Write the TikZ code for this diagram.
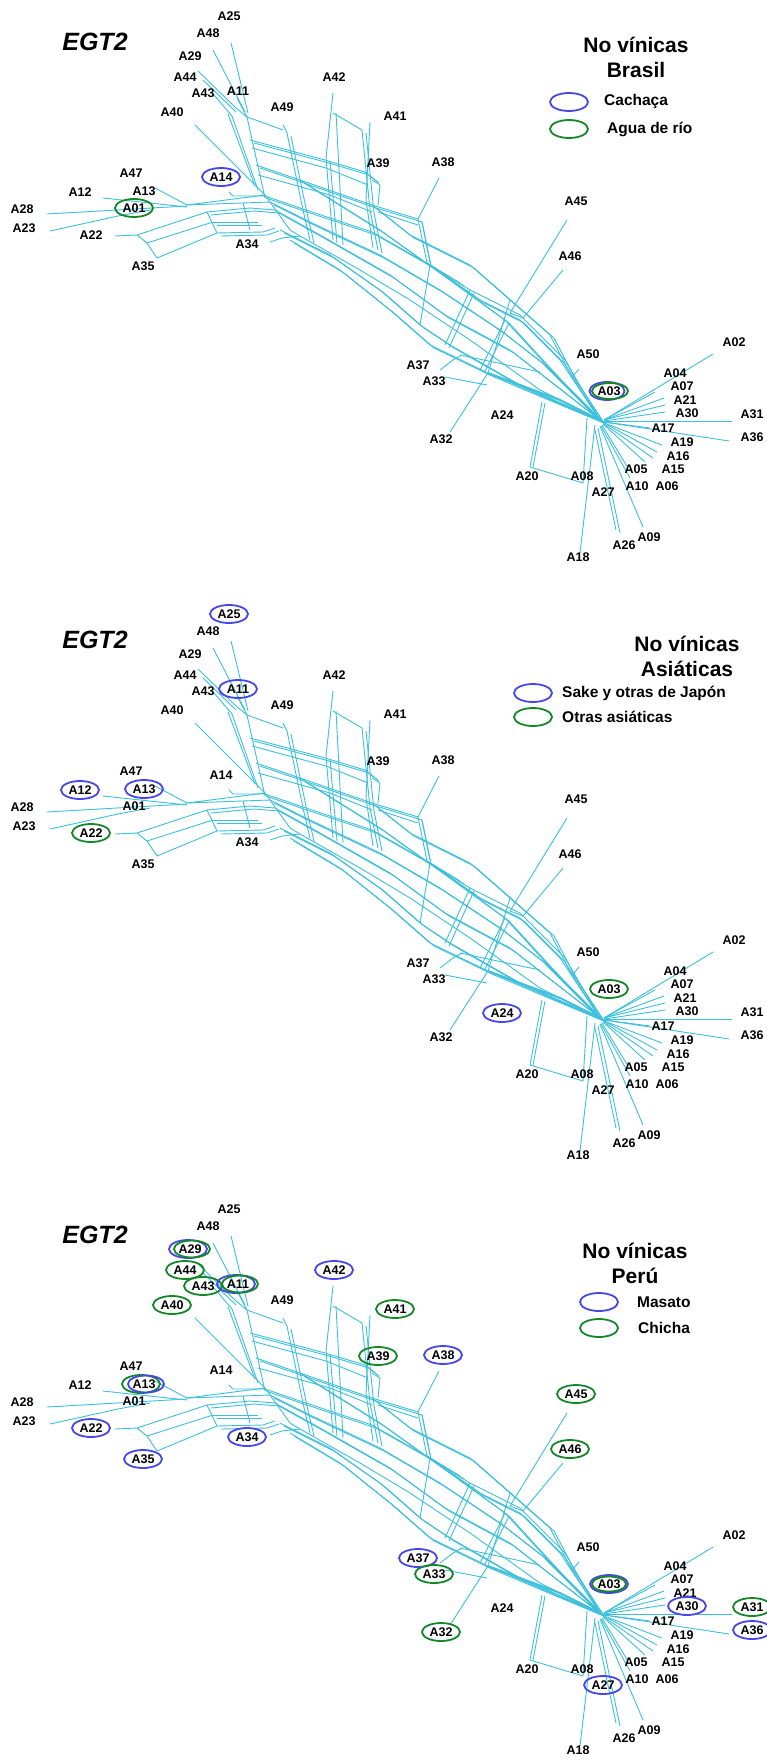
\documentclass[tikz,border=0pt]{standalone}
\usepackage{fontspec}
\setmainfont{Liberation Sans}
\usetikzlibrary{shapes.geometric}
\definecolor{netc}{RGB}{60,192,220}
\definecolor{blueC}{RGB}{70,70,235}
\definecolor{greenC}{RGB}{20,135,40}
\tikzset{
  net/.style={netc, line width=0.9pt, line join=round},
  netthick/.style={netc, line width=2pt},
  lab/.style={font=\bfseries\fontsize{12.5}{13}\selectfont, inner sep=0pt},
  ttl/.style={font=\bfseries\itshape\fontsize{25}{26}\selectfont, inner sep=0pt},
  leghead/.style={font=\bfseries\fontsize{21}{25}\selectfont, inner sep=0pt, align=center},
  legtxt/.style={font=\bfseries\fontsize{15.5}{16}\selectfont, inner sep=0pt, anchor=west},
  ring/.style={draw=#1, ellipse, line width=1.8pt, minimum width=38pt, minimum height=18pt, inner sep=0pt},
}
% parallel strands of the central band (drawn twice, slightly offset)
\newcommand\bandlines{%
  \draw[net] (250,140)--(325,160)--(365,172)--(375,180);
  \draw[net] (256,165)--(300,180)--(372,205);
  \draw[net] (287,133)--(303,210)--(310,240);
  \draw[net] (326,158)--(333,240);
  \draw[net] (362,130)--(370,210)--(378,250);
  \draw[net] (372,205)--(418,219);
  \draw[net] (418,219)--(427,263)--(460,283);
  \draw[net] (262,195)--(300,208)--(372,232)--(430,265)--(480,300)--(520,320)--(560,360)--(600,420);
  \draw[net] (270,202)--(310,222)--(380,255)--(440,290)--(500,330)--(545,365)--(600,420);
  \draw[net] (275,210)--(320,235)--(390,275)--(445,315)--(510,350)--(600,420);
  \draw[net] (280,230)--(330,255)--(380,290)--(420,325)--(450,345)--(520,385)--(600,420);
  \draw[net] (290,240)--(340,270)--(390,310)--(430,345)--(488,373)--(540,395)--(600,420);
  \draw[net] (372,205)--(410,235)--(470,265)--(510,300)--(550,335)--(572,377)--(600,420);
  \draw[net] (300,180)--(380,230)--(450,280)--(505,320)--(560,380)--(600,420);
  \draw[net] (470,290)--(445,345);
  \draw[net] (505,320)--(480,370);
  \draw[net] (207,212)--(250,208)--(275,210);
  \draw[net] (213,222)--(258,222);
  \draw[net] (217,233)--(263,232)--(275,228);
}
% the split network, in the coordinates of one panel
\newcommand\netlines{%
  \bandlines
  \begin{scope}[shift={(4,3)}]\bandlines\end{scope}
  % top cluster
  \draw[net] (198,71)--(236,108)--(247,117);
  \draw[net] (203,80)--(236,112);
  \draw[net] (213,50)--(245,112);
  \draw[net] (231,43)--(248,113);
  \draw[net] (214,95)--(232,116);
  \draw[net] (237,98)--(247,117)--(283,130);
  \draw[net] (283,125)--(287,133);
  \draw[net] (247,117)--(265,198);
  \draw[net] (232,116)--(258,190);
  \draw[net] (228,114)--(255,186);
  \draw[net] (195,125)--(265,195);
  % upper block
  \draw[net] (252,148)--(326,168)--(368,185);
  \draw[net] (258,175)--(330,195)--(372,212);
  \draw[net] (333,93)--(326,158);
  \draw[net] (336,113)--(343,245);
  \draw[net] (333,113)--(362,130);
  \draw[net] (370,122)--(366,200)--(373,248);
  \draw[net] (372,180)--(380,185)--(378,205);
  \draw[net] (378,212)--(418,225);
  \draw[net] (439,178)--(418,219);
  \draw[net] (422,222)--(430,262);
  % left block
  \draw[net] (187,205)--(270,202);
  \draw[net] (187,205)--(265,195);
  \draw[net] (155,188)--(187,205);
  \draw[net] (103,198)--(187,207);
  \draw[net] (47,214)--(187,206);
  \draw[net] (50,231)--(118,216)--(150,210);
  \draw[net] (115,236)--(137,235)--(207,212);
  \draw[net] (137,235)--(147,243)--(157,258);
  \draw[net] (147,243)--(213,222);
  \draw[net] (157,258)--(217,233);
  \draw[net] (207,212)--(217,233);
  \draw[net] (243,203)--(250,230);
  \draw[net] (229,192)--(233,196)--(265,196);
  \draw[net] (270,242)--(282,238)--(300,236);
  \draw[net] (265,195)--(290,230)--(300,236);
  % main band
  \draw[net] (300,236)--(360,270)--(410,300)--(470,340)--(540,390)--(600,420);
  \draw[net] (427,263)--(470,290)--(520,315)--(565,360)--(600,420);
  \draw[net] (430,265)--(420,325);
  \draw[net] (510,300)--(488,373);
  \draw[net] (567,220)--(510,313)--(523,318)--(563,270);
  % lower part and hub
  \draw[net] (440,370)--(453,360)--(462,355);
  \draw[net] (445,377)--(487,385);
  \draw[net] (460,355)--(540,372);
  \draw[net] (488,373)--(450,432);
  \draw[netthick] (488,373)--(560,400)--(600,420);
  \draw[netthick] (545,365)--(600,420);
  \draw[net] (579,369)--(572,377);
  \draw[net] (542,402)--(530,467)--(583,483)--(587,418);
  \draw[net] (545,403)--(533,467);
  \draw[net] (595,425)--(580,553);
  % right fan
  \draw[net] (713,354)--(604,420);
  \draw[net] (655,392)--(604,420);
  \draw[net] (664,398)--(604,420);
  \draw[net] (665,405)--(604,420);
  \draw[net] (665,412)--(604,421);
  \draw[net] (732,421)--(604,421);
  \draw[net] (650,428)--(604,422);
  \draw[net] (729,441)--(604,422);
  \draw[net] (662,445)--(604,423);
  \draw[net] (657,452)--(604,423);
  \draw[net] (653,458)--(604,424);
  \draw[net] (645,462)--(603,424);
  \draw[net] (628,468)--(602,425);
  \draw[net] (630,478)--(601,426);
  \draw[net] (643,527)--(600,426);
  \draw[net] (620,533)--(598,428);
  \draw[net] (616,530)--(595,430);
}
% taxon labels; #1 is the panel prefix
\newcommand\netlabels[1]{%
  \node[ttl] (#1EGT2) at (95,42) {EGT2};
  \node[lab] (#1A25) at (229,16) {A25};
  \node[lab] (#1A48) at (208,33) {A48};
  \node[lab] (#1A29) at (190,56) {A29};
  \node[lab] (#1A44) at (185,77) {A44};
  \node[lab] (#1A43) at (203,93) {A43};
  \node[lab] (#1A11) at (238,91) {A11};
  \node[lab] (#1A40) at (172,112) {A40};
  \node[lab] (#1A49) at (282,107) {A49};
  \node[lab] (#1A42) at (334,77) {A42};
  \node[lab] (#1A41) at (395,116) {A41};
  \node[lab] (#1A39) at (378,163) {A39};
  \node[lab] (#1A38) at (443,162) {A38};
  \node[lab] (#1A45) at (576,201) {A45};
  \node[lab] (#1A46) at (570,256) {A46};
  \node[lab] (#1A47) at (131,173) {A47};
  \node[lab] (#1A12) at (80,192) {A12};
  \node[lab] (#1A13) at (144,191) {A13};
  \node[lab] (#1A01) at (134,208) {A01};
  \node[lab] (#1A14) at (221,177) {A14};
  \node[lab] (#1A28) at (22,209) {A28};
  \node[lab] (#1A23) at (24,228) {A23};
  \node[lab] (#1A22) at (91,235) {A22};
  \node[lab] (#1A35) at (143,266) {A35};
  \node[lab] (#1A34) at (247,244) {A34};
  \node[lab] (#1A02) at (734,342) {A02};
  \node[lab] (#1A50) at (588,354) {A50};
  \node[lab] (#1A37) at (418,365) {A37};
  \node[lab] (#1A33) at (434,381) {A33};
  \node[lab] (#1A03) at (609,391) {A03};
  \node[lab] (#1A04) at (675,373) {A04};
  \node[lab] (#1A07) at (682,386) {A07};
  \node[lab] (#1A21) at (685,400) {A21};
  \node[lab] (#1A30) at (687,413) {A30};
  \node[lab] (#1A31) at (752,414) {A31};
  \node[lab] (#1A17) at (663,428) {A17};
  \node[lab] (#1A36) at (752,437) {A36};
  \node[lab] (#1A19) at (682,442) {A19};
  \node[lab] (#1A16) at (678,456) {A16};
  \node[lab] (#1A15) at (673,469) {A15};
  \node[lab] (#1A05) at (636,469) {A05};
  \node[lab] (#1A10) at (637,486) {A10};
  \node[lab] (#1A06) at (667,486) {A06};
  \node[lab] (#1A27) at (603,492) {A27};
  \node[lab] (#1A08) at (582,476) {A08};
  \node[lab] (#1A20) at (527,476) {A20};
  \node[lab] (#1A24) at (502,415) {A24};
  \node[lab] (#1A32) at (441,439) {A32};
  \node[lab] (#1A09) at (649,537) {A09};
  \node[lab] (#1A26) at (624,545) {A26};
  \node[lab] (#1A18) at (578,557) {A18};
}
\begin{document}
\begin{tikzpicture}[x=1pt, y=-1pt]
\useasboundingbox (0,0) rectangle (766,1760);
\fill[white] (0,0) rectangle (766,1760);

% ---------- Brasil ----------
\begin{scope}
  \netlines
  \netlabels{a}
  \node[ring=blueC] (aR14) at (aA14) {};
  \node[ring=greenC] (aR01) at (aA01) {};
  \node[ring=blueC, minimum width=35pt] (aR03b) at ([xshift=-2pt]aA03) {};
  \node[ring=greenC, minimum width=36pt, minimum height=16pt] (aR03g) at ([xshift=1pt]aA03) {};
  \node[leghead] (aH) at (636,57) {No vínicas\\Brasil};
  \node[ring=blueC] (aL1) at (569,102) {};
  \node[ring=greenC] (aL2) at (569,129) {};
  \node[legtxt] (aT1) at (604,101) {Cachaça};
  \node[legtxt] (aT2) at (607,129) {Agua de río};
\end{scope}

% ---------- Asiáticas ----------
\begin{scope}[yshift=-598pt]
  \netlines
  \netlabels{b}
  \node[ring=blueC] (bR25) at (bA25) {};
  \node[ring=blueC] (bR11) at (bA11) {};
  \node[ring=blueC] (bR12) at (bA12) {};
  \node[ring=blueC] (bR13) at (bA13) {};
  \node[ring=greenC] (bR22) at (bA22) {};
  \node[ring=blueC] (bR24) at (bA24) {};
  \node[ring=greenC] (bR03) at (bA03) {};
  \node[leghead] (bH) at (687,58) {No vínicas\\Asiáticas};
  \node[ring=blueC] (bL1) at (533,95) {};
  \node[ring=greenC] (bL2) at (533,119) {};
  \node[legtxt] (bT1) at (562,95) {Sake y otras de Japón};
  \node[legtxt] (bT2) at (562,119) {Otras asiáticas};
\end{scope}

% ---------- Perú ----------
\begin{scope}[yshift=-1193pt]
  \netlines
  \netlabels{c}
  \node[ring=blueC] (cR29b) at ([xshift=-2pt]cA29) {};
  \node[ring=greenC, minimum width=36pt, minimum height=17pt] (cR29g) at ([xshift=2pt]cA29) {};
  \node[ring=greenC] (cR44) at (cA44) {};
  \node[ring=greenC] (cR43) at (cA43) {};
  \node[ring=blueC] (cR11b) at ([xshift=-2pt]cA11) {};
  \node[ring=greenC, minimum width=36pt, minimum height=17pt] (cR11g) at ([xshift=2pt]cA11) {};
  \node[ring=greenC] (cR40) at (cA40) {};
  \node[ring=blueC] (cR42) at (cA42) {};
  \node[ring=greenC] (cR41) at (cA41) {};
  \node[ring=greenC] (cR39) at (cA39) {};
  \node[ring=blueC] (cR38) at (cA38) {};
  \node[ring=greenC] (cR13g) at ([xshift=-3pt]cA13) {};
  \node[ring=blueC, minimum width=36pt, minimum height=17pt] (cR13b) at ([xshift=2pt]cA13) {};
  \node[ring=blueC] (cR22) at (cA22) {};
  \node[ring=blueC] (cR35) at (cA35) {};
  \node[ring=blueC] (cR34) at (cA34) {};
  \node[ring=greenC] (cR45) at (cA45) {};
  \node[ring=greenC] (cR46) at (cA46) {};
  \node[ring=blueC] (cR37) at (cA37) {};
  \node[ring=greenC] (cR33) at (cA33) {};
  \node[ring=greenC] (cR32) at (cA32) {};
  \node[ring=blueC] (cR03b) at (cA03) {};
  \node[ring=greenC, minimum width=34pt, minimum height=15pt] (cR03g) at (cA03) {};
  \node[ring=blueC] (cR30) at (cA30) {};
  \node[ring=greenC] (cR31) at (cA31) {};
  \node[ring=blueC] (cR36) at (cA36) {};
  \node[ring=blueC] (cR27) at (cA27) {};
  \node[leghead] (cH) at (635,70) {No vínicas\\Perú};
  \node[ring=blueC] (cL1) at (599,109) {};
  \node[ring=greenC] (cL2) at (599,135) {};
  \node[legtxt] (cT1) at (637,109) {Masato};
  \node[legtxt] (cT2) at (638,135) {Chicha};
\end{scope}
\end{tikzpicture}
\end{document}
